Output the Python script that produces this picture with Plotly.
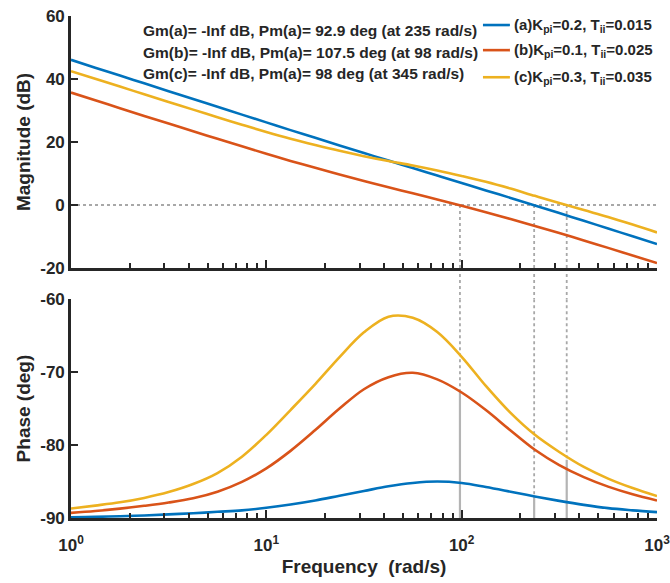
import plotly.graph_objects as go

# ---------------- data ----------------
freq = [1, 1.33, 1.78, 2.37, 3.16, 4.22, 5.62, 7.5, 10, 13.3, 17.8, 23.7, 31.6,
        42.2, 56.2, 75, 100, 133, 178, 237, 316, 422, 562, 750, 1000]

mag_a = [46.1, 43.6, 41.11, 38.62, 36.13, 33.64, 31.16, 28.69, 26.23, 23.77, 21.33, 18.91, 16.5,
         14.11, 11.74, 9.37, 7.01, 4.64, 2.25, -0.15, -2.57, -5.01, -7.47, -9.94, -12.41]
mag_b = [35.7, 33.22, 30.75, 28.29, 25.85, 23.41, 21.0, 18.62, 16.28, 14.0, 11.8, 9.69, 7.65,
         5.66, 3.7, 1.74, -0.26, -2.31, -4.44, -6.65, -8.92, -11.24, -13.61, -16.0, -18.42]
mag_c = [42.5, 40.05, 37.6, 35.15, 32.7, 30.28, 27.88, 25.5, 23.2, 21.05, 19.05, 17.2, 15.5,
         13.95, 12.55, 10.95, 9.2, 7.35, 5.2, 2.9, 0.65, -1.6, -3.8, -6.2, -8.7]

ph_a = [-89.9, -89.85, -89.75, -89.65, -89.5, -89.35, -89.15, -88.95, -88.6, -88.15, -87.6, -86.95, -86.3,
        -85.65, -85.2, -85.0, -85.2, -85.75, -86.4, -87.05, -87.65, -88.2, -88.65, -88.95, -89.2]
ph_b = [-89.3, -89.05, -88.72, -88.33, -87.88, -87.3, -86.4, -85.05, -83.2, -80.8, -77.95, -75.0, -72.35,
        -70.7, -70.1, -71.0, -72.8, -75.2, -78.0, -80.65, -82.75, -84.4, -85.7, -86.75, -87.6]
ph_c = [-88.7, -88.3, -87.85, -87.25, -86.45, -85.35, -83.85, -81.6, -78.6, -75.2, -71.65, -67.95, -64.55,
        -62.4, -62.55, -64.5, -67.9, -71.9, -75.6, -78.6, -80.95, -83.0, -84.6, -85.9, -87.0]

names = ["(a)K<sub>pi</sub>=0.2, T<sub>ii</sub>=0.015",
         "(b)K<sub>pi</sub>=0.1, T<sub>ii</sub>=0.025",
         "(c)K<sub>pi</sub>=0.3, T<sub>ii</sub>=0.035"]
colors = ["#0072BD", "#D95319", "#EDB120"]

# crossover frequencies and phase margins (a, b, c)
wc = [235, 98, 345]
pm = [92.9, 107.5, 98]
gm_text = ["Gm(a)= -Inf dB, Pm(a)= 92.9 deg (at 235 rad/s)",
           "Gm(b)= -Inf dB, Pm(a)= 107.5 deg (at 98 rad/s)",
           "Gm(c)= -Inf dB, Pm(a)= 98 deg (at 345 rad/s)"]

mag_range = [-20, 60]
mag_ticks = [-20, 0, 20, 40, 60]
ph_range = [-90, -60]
ph_ticks = [-90, -80, -70, -60]
x_ticks = [1, 10, 100, 1000]
x_ticktext = ["10<sup>0</sup>", "10<sup>1</sup>", "10<sup>2</sup>", "10<sup>3</sup>"]

# ---------------- figure ----------------
FONT = "Liberation Sans, Arial, sans-serif"
TXT = "#262626"
fig = go.Figure()

for m, c in zip([mag_a, mag_b, mag_c], colors):
    fig.add_trace(go.Scatter(x=freq, y=m, mode="lines", showlegend=False,
                             line=dict(color=c, width=2.6, shape="spline", smoothing=1.0),
                             xaxis="x", yaxis="y"))
for p, c in zip([ph_a, ph_b, ph_c], colors):
    fig.add_trace(go.Scatter(x=freq, y=p, mode="lines", showlegend=False,
                             line=dict(color=c, width=2.6, shape="spline", smoothing=1.0),
                             xaxis="x2", yaxis="y2"))

top_dom = [0.498, 1.0]
bot_dom = [0.0, 0.436]

gray = "#A8A8A8"
shapes = []
shapes.append(dict(type="line", xref="x", yref="y", x0=x_ticks[0], x1=x_ticks[-1], y0=0, y1=0,
                   line=dict(color=gray, width=1.8, dash="dot"), layer="below"))
for w, m in zip(wc, pm):
    phase_at = m - 180
    dot = dict(color=gray, width=1.8, dash="dot")
    shapes.append(dict(type="line", xref="x", yref="y", x0=w, x1=w, y0=0, y1=mag_range[0],
                       line=dot, layer="below"))
    shapes.append(dict(type="line", xref="x", yref="paper", x0=w, x1=w, y0=top_dom[0], y1=bot_dom[1],
                       line=dot, layer="below"))
    shapes.append(dict(type="line", xref="x2", yref="y2", x0=w, x1=w, y0=ph_range[1], y1=phase_at,
                       line=dot, layer="below"))
    shapes.append(dict(type="line", xref="x2", yref="y2", x0=w, x1=w, y0=phase_at, y1=ph_range[0],
                       line=dict(color="#B4B4B4", width=2.2), layer="below"))

annotations = []
ann_y = [0.972, 0.928, 0.886]
for t, yy in zip(gm_text, ann_y):
    annotations.append(dict(text=t, xref="paper", yref="paper", x=0.119, y=yy,
                            xanchor="left", yanchor="middle", showarrow=False,
                            font=dict(family=FONT, size=15.5, color=TXT, weight="bold")))

# legend drawn as line samples + text
leg_y = [0.982, 0.932, 0.878]
for n, c, yy in zip(names, colors, leg_y):
    shapes.append(dict(type="line", xref="paper", yref="paper", x0=0.703, x1=0.749, y0=yy, y1=yy,
                       line=dict(color=c, width=2.6)))
    annotations.append(dict(text=n, xref="paper", yref="paper", x=0.752, y=yy,
                            xanchor="left", yanchor="middle", showarrow=False,
                            font=dict(family=FONT, size=15, color=TXT, weight="bold")))

axis_common = dict(
    showline=True, linecolor=TXT, linewidth=2.6, mirror=False, automargin=False,
    ticks="inside", tickcolor=TXT, tickwidth=2, showgrid=False, zeroline=False,
    tickfont=dict(family=FONT, size=17, color=TXT, weight="bold"),
)
title_font = dict(family=FONT, size=19, color=TXT, weight="bold")
minor = dict(ticks="inside", ticklen=5, tickcolor=TXT, tickwidth=2, dtick="D1")

fig.update_layout(
    width=670, height=583,
    margin=dict(l=71, r=13, t=16, b=65),
    paper_bgcolor="white", plot_bgcolor="white",
    showlegend=False,
    shapes=shapes, annotations=annotations,
    xaxis=dict(type="log", range=[0, 3], domain=[0, 1], anchor="y",
               tickvals=x_ticks, showticklabels=False, ticklen=8, minor=minor,
               **axis_common),
    yaxis=dict(range=mag_range, domain=top_dom, anchor="x", ticklen=7,
               tickvals=mag_ticks, ticktext=[str(v) for v in mag_ticks],
               title=dict(text="Magnitude (dB)", standoff=5, font=title_font),
               **axis_common),
    xaxis2=dict(type="log", range=[0, 3], domain=[0, 1], anchor="y2",
                tickvals=x_ticks, ticktext=x_ticktext, ticklen=8, minor=minor,
                ticklabeloverflow="allow", ticklabelstandoff=10,
                title=dict(text="Frequency\u00a0 (rad/s)", standoff=6, font=title_font),
                **axis_common),
    yaxis2=dict(range=ph_range, domain=bot_dom, anchor="x2", ticklen=7,
                tickvals=ph_ticks, ticktext=[str(v) for v in ph_ticks],
                title=dict(text="Phase (deg)", standoff=5, font=title_font),
                **axis_common),
)

fig.write_html("out.html")
